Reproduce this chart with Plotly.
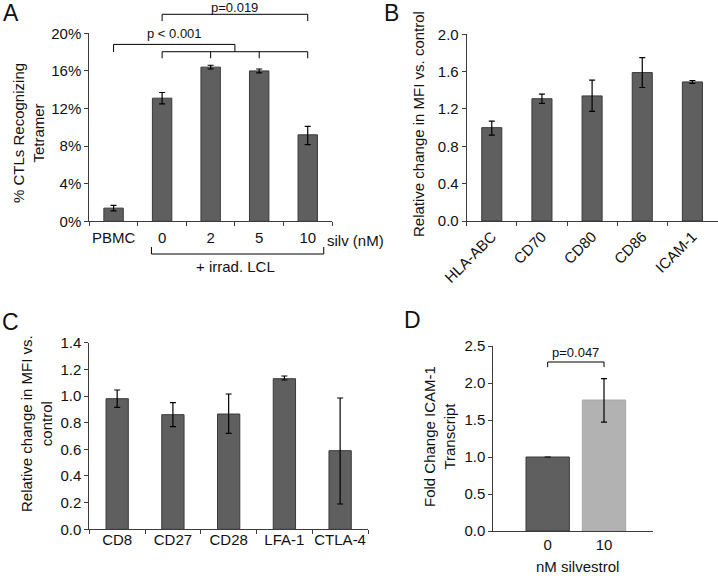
import plotly.graph_objects as go

W, H = 718, 576

# panel A: % CTLs recognizing tetramer
a_cats = ["PBMC", "0", "2", "5", "10"]
a_vals = [1.4, 13.1, 16.4, 16.0, 9.2]
a_err_hi = [0.3, 0.6, 0.2, 0.2, 0.9]
a_err_lo = [0.3, 0.6, 0.2, 0.2, 1.05]

# panel B: APC markers
b_cats = ["HLA-ABC", "CD70", "CD80", "CD86", "ICAM-1"]
b_vals = [1.0, 1.31, 1.34, 1.59, 1.49]
b_err_hi = [0.07, 0.05, 0.17, 0.16, 0.015]
b_err_lo = [0.08, 0.05, 0.165, 0.16, 0.015]

# panel C: T cell markers
c_cats = ["CD8", "CD27", "CD28", "LFA-1", "CTLA-4"]
c_vals = [0.98, 0.86, 0.865, 1.13, 0.59]
c_err_hi = [0.065, 0.09, 0.15, 0.02, 0.395]
c_err_lo = [0.065, 0.09, 0.145, 0.01, 0.40]

# panel D: ICAM-1 transcript
d_cats = ["0", "10"]
d_vals = [1.0, 1.77]
d_err_hi = [0.0, 0.29]
d_err_lo = [0.0, 0.30]

FONT = "Liberation Sans, Arial, sans-serif"
BAR = "#5f5f5f"
EDGE = "#3a3a3a"
AXC = "#3c3c3c"
FS = 15


def px(x):
    return x / W


def py(y):
    return 1 - y / H


def err(hi, lo):
    return dict(type="data", symmetric=False, array=hi, arrayminus=lo,
                color="black", thickness=1.2, width=3)


fig = go.Figure()

fig.add_trace(go.Bar(x=a_cats, y=a_vals, width=0.4, xaxis="x", yaxis="y",
                     marker=dict(color=BAR, line=dict(color=EDGE, width=1)),
                     error_y=err(a_err_hi, a_err_lo)))
fig.add_trace(go.Bar(x=b_cats, y=b_vals, width=0.4, xaxis="x2", yaxis="y2",
                     marker=dict(color=BAR, line=dict(color=EDGE, width=1)),
                     error_y=err(b_err_hi, b_err_lo)))
fig.add_trace(go.Bar(x=c_cats, y=c_vals, width=0.4, xaxis="x3", yaxis="y3",
                     marker=dict(color=BAR, line=dict(color=EDGE, width=1)),
                     error_y=err(c_err_hi, c_err_lo)))
fig.add_trace(go.Bar(x=d_cats, y=d_vals, width=0.77, xaxis="x4", yaxis="y4",
                     marker=dict(color=[BAR, "#b2b2b2"],
                                 line=dict(color=[EDGE, "#a8a8a8"], width=1)),
                     error_y=err(d_err_hi, d_err_lo)))

axis = dict(showline=True, linecolor=AXC, linewidth=1, ticks="outside",
            tickcolor=AXC, ticklen=4, showgrid=False, zeroline=False,
            automargin=False, tickfont=dict(size=FS, color="#111"),
            fixedrange=True)
xcat = dict(axis, type="category", range=[-0.5, 4.5], tickson="boundaries")

fig.update_layout(
    width=W, height=H,
    margin=dict(l=0, r=0, t=0, b=0),
    paper_bgcolor="white", plot_bgcolor="white",
    font=dict(family=FONT, size=FS, color="#111"),
    showlegend=False,
    xaxis=dict(xcat, domain=[px(89.3), px(332)], anchor="y", tickangle=0,
               ticklabelstandoff=3),
    yaxis=dict(axis, domain=[py(221.3), py(33.3)], anchor="x",
               range=[0, 20], dtick=4, ticksuffix="%"),
    xaxis2=dict(xcat, domain=[px(466.7), px(717.5)], anchor="y2",
                tickangle=-45),
    yaxis2=dict(axis, domain=[py(221), py(34.3)], anchor="x2",
                range=[0, 2.0], dtick=0.4, tickformat=".1f"),
    xaxis3=dict(xcat, domain=[px(89.3), px(368)], anchor="y3", tickangle=0,
                ticklabelstandoff=-3),
    yaxis3=dict(axis, domain=[py(529.3), py(342.7)], anchor="x3",
                range=[0, 1.4], dtick=0.2, tickformat=".1f"),
    xaxis4=dict(axis, type="category", ticks="", tickangle=0,
                domain=[px(493.3), px(652.7)], anchor="y4",
                range=[-0.966, 1.865]),
    yaxis4=dict(axis, domain=[py(531), py(346)], anchor="x4",
                range=[0, 2.5], dtick=0.5, tickformat=".1f"),
)


def seg(xr, yr, x0, y0, x1, y1):
    return dict(type="line", xref=xr, yref=yr, x0=x0, y0=y0, x1=x1, y1=y1,
                line=dict(color="black", width=1))


shapes = []
# A: p < 0.001 (PBMC vs all irradiated LCL groups)
shapes.append(seg("x", "y domain", 0, 0.941, 2.5, 0.941))
shapes.append(seg("x", "y domain", 0, 0.941, 0, 0.90))
shapes.append(seg("x", "y domain", 2.5, 0.941, 2.5, 0.902))
shapes.append(seg("x", "y domain", 1, 0.902, 4, 0.902))
for k in [1, 2, 3, 4]:
    shapes.append(seg("x", "y domain", k, 0.902, k, 0.867))
# A: p = 0.019 (0 vs 10)
shapes.append(seg("x", "y domain", 1, 1.101, 4, 1.101))
shapes.append(seg("x", "y domain", 1, 1.101, 1, 1.065))
shapes.append(seg("x", "y domain", 4, 1.101, 4, 1.065))
# A: + irrad. LCL bracket below axis
shapes.append(seg("x", "y domain", 0.78, -0.174, 4.33, -0.174))
shapes.append(seg("x", "y domain", 0.78, -0.174, 0.78, -0.137))
shapes.append(seg("x", "y domain", 4.33, -0.174, 4.33, -0.137))
# D: p = 0.047
shapes.append(seg("x4", "y4 domain", 0, 0.9135, 1, 0.9135))
shapes.append(seg("x4", "y4 domain", 0, 0.9135, 0, 0.886))
shapes.append(seg("x4", "y4 domain", 1, 0.9135, 1, 0.886))
fig.update_layout(shapes=shapes)


def note(text, x, y, xr="paper", yr="paper", size=FS, angle=0):
    return dict(text=text, x=x, y=y, xref=xr, yref=yr, showarrow=False,
                textangle=angle, font=dict(size=size, color="#111"),
                xanchor="center", yanchor="middle")


ann = [
    note("A", px(11), py(13), size=23),
    note("B", px(391), py(13), size=23),
    note("C", px(10), py(322), size=23),
    note("D", px(412), py(320), size=23),
    note("p < 0.001", 1.26, 1.0, "x", "y domain", size=13),
    note("p=0.019", 2.5, 1.138, "x", "y domain", size=13),
    note("silv (nM)", px(355), py(240)),
    note("+ irrad. LCL", 2.52, -0.243, "x", "y domain"),
    note("% CTLs Recognizing<br>Tetramer", px(28), py(133), angle=-90),
    note("Relative change in MFI vs. control", px(418), py(124), angle=-90),
    note("Relative change in MFI vs.<br>control", px(36), py(424), angle=-90),
    note("Fold Change ICAM-1<br>Transcript", px(439), py(437), angle=-90),
    note("p=0.047", 0.5, 0.964, "x4", "y4 domain", size=13),
    note("nM silvestrol", px(577), py(566)),
]
fig.update_layout(annotations=ann)

fig.write_html("out.html", config={"displayModeBar": False},
               post_script="document.body.style.margin = '0';")
